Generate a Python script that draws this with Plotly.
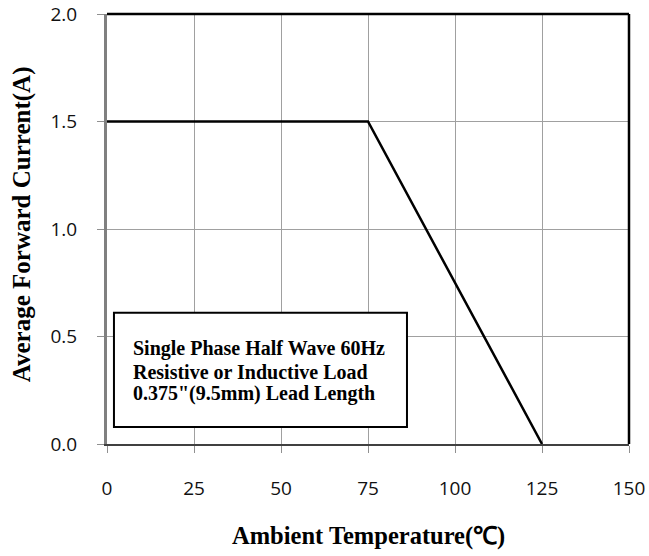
import plotly.graph_objects as go

# data
temps = [0, 75, 125]
current = [1.5, 1.5, 0.0]
x_ticks = [0, 25, 50, 75, 100, 125, 150]
y_ticks = [0.0, 0.5, 1.0, 1.5, 2.0]
y_tick_labels = ["0.0", "0.5", "1.0", "1.5", "2.0"]
note_lines = ["Single Phase Half Wave 60Hz", "Resistive or Inductive Load", "0.375\"(9.5mm) Lead Length"]
note_line_y = [0.443, 0.336, 0.233]
x_title = "Ambient Temperature(℃)"
y_title = "Average Forward Current(A)"

serif = "Liberation Serif, Times New Roman, serif"
sans = "Open Sans, Noto Sans, sans-serif"

fig = go.Figure()
fig.add_trace(go.Scatter(x=temps, y=current, mode="lines",
                         line=dict(color="black", width=2.5), showlegend=False, hoverinfo="skip"))

fig.update_layout(
    width=649, height=556,
    margin=dict(l=107, r=20, t=14, b=112, autoexpand=False),
    paper_bgcolor="white", plot_bgcolor="white",
    showlegend=False,
    xaxis=dict(range=[0, 150], tickvals=x_ticks, ticktext=[str(v) for v in x_ticks],
               showgrid=True, gridcolor="#a0a0a0", gridwidth=1.3,
               showline=True, linecolor="#404040", linewidth=2,
               ticks="outside", ticklen=7, tickcolor="#909090", tickwidth=1.3,
               tickfont=dict(family=sans, size=19, color="#111"),
               ticklabelstandoff=19, zeroline=False, fixedrange=True, automargin=False),
    yaxis=dict(range=[0, 2.0], tickvals=y_ticks, ticktext=y_tick_labels,
               showgrid=True, gridcolor="#a0a0a0", gridwidth=1.3,
               showline=True, linecolor="#808080", linewidth=3,
               ticks="outside", ticklen=7, tickcolor="#909090", tickwidth=1.3,
               tickfont=dict(family=sans, size=19, color="#111"),
               ticklabelstandoff=16, zeroline=False, fixedrange=True, automargin=False),
)

# top and right frame
fig.add_shape(type="line", xref="x domain", yref="y domain", x0=0, x1=1, y0=1, y1=1,
              line=dict(color="black", width=2.5))
fig.add_shape(type="line", xref="x domain", yref="y domain", x0=1, x1=1, y0=0, y1=1,
              line=dict(color="black", width=2.5))

# note box
fig.add_shape(type="rect", xref="x", yref="y", x0=2.0, x1=86.2, y0=0.079, y1=0.611,
              line=dict(color="black", width=2), fillcolor="white", layer="above")
for line_text, ly in zip(note_lines, note_line_y):
    fig.add_annotation(x=6.9, y=ly, xref="x", yref="y", xanchor="left", yanchor="middle",
                       text="<b>" + line_text + "</b>", align="left", showarrow=False,
                       font=dict(family=serif, size=20, color="black"))

# axis titles
fig.add_annotation(x=0.5, y=-0.214, xref="x domain", yref="y domain", xanchor="center", yanchor="middle",
                   text="<b>" + x_title + "</b>", showarrow=False,
                   font=dict(family=serif, size=24.5, color="black"))
fig.add_annotation(x=-0.163, y=0.511, xref="paper", yref="y domain", xanchor="center", yanchor="middle",
                   text="<b>" + y_title + "</b>", textangle=-90, showarrow=False,
                   font=dict(family=serif, size=25, color="black"))

fig.write_html("out.html")
